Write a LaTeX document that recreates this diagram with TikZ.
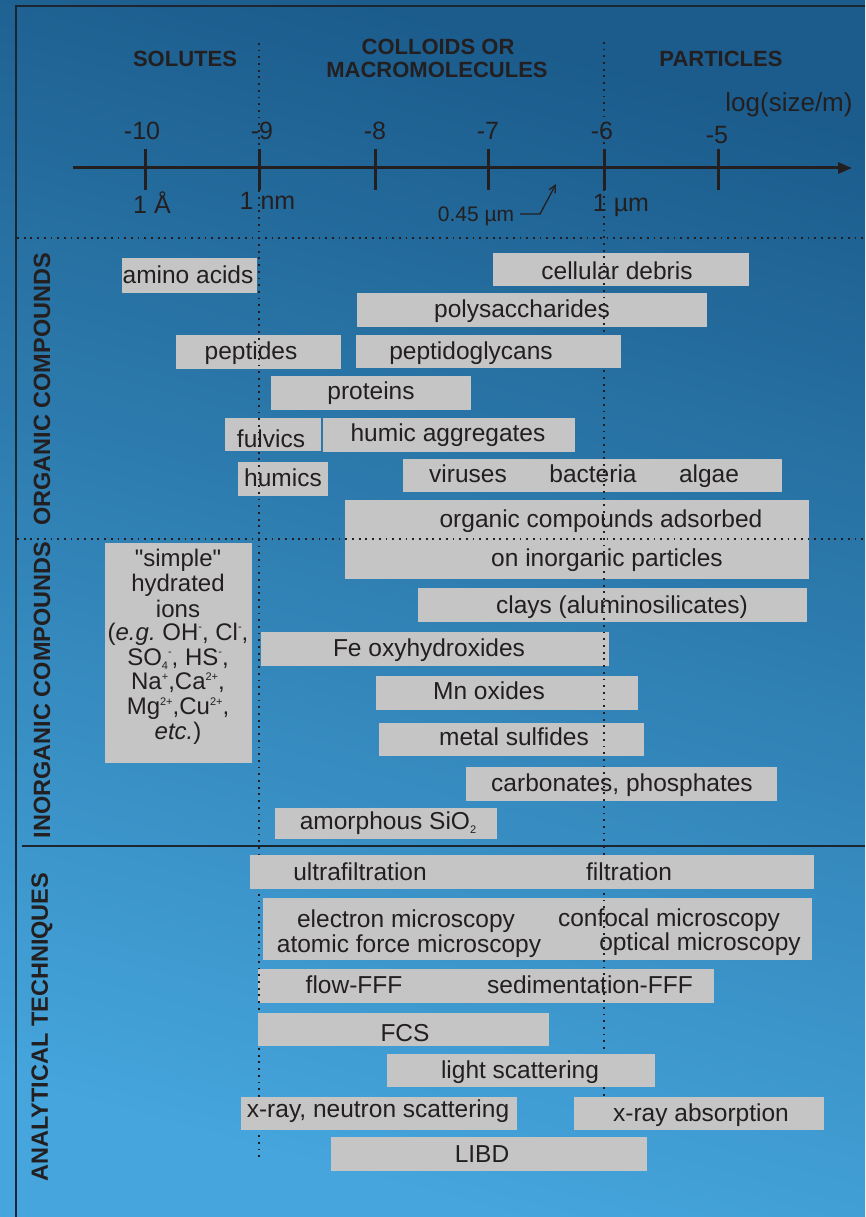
\documentclass[tikz,border=0pt]{standalone}
\usepackage{fontspec}
\setmainfont{Liberation Sans}
\newfontfamily\qfont{Liberation Sans}
\usetikzlibrary{arrows.meta}
\definecolor{bgtop}{HTML}{1B5C8C}
\definecolor{bgbot}{HTML}{45A5DC}
\definecolor{boxgray}{HTML}{C5C5C5}
\definecolor{ink}{HTML}{231F20}
\definecolor{rulec}{HTML}{1C2630}
\frenchspacing
\newcommand\ionsup[1]{\smash{\raisebox{0.38em}{\fontsize{11}{11}\selectfont #1}}}
\newcommand\ionsub[1]{\smash{\raisebox{-0.18em}{\fontsize{11}{11}\selectfont #1}}}
\newcommand\gb[5]{\node[gbox, minimum width={(#4-#2)*1pt}, minimum height={(#5-#3)*1pt}] (#1) at (#2,#3) {};}
\tikzset{
  gbox/.style={fill=boxgray, inner sep=0pt, outer sep=0pt, anchor=north west},
  lbl/.style={text=ink, inner sep=0pt, anchor=base, font=\fontsize{24.5}{29}\selectfont},
  ionl/.style={text=ink, inner sep=0pt, anchor=base, font=\fontsize{24}{28}\selectfont},
  small/.style={text=ink, inner sep=0pt, anchor=base, font=\fontsize{21}{25}\selectfont},
  axnum/.style={text=ink, inner sep=0pt, anchor=base, font=\fontsize{25}{30}\selectfont},
  hdr/.style={text=ink, inner sep=0pt, anchor=base, font=\bfseries\fontsize{22}{26}\selectfont},
  side/.style={text=ink, inner sep=0pt, rotate=90, font=\bfseries\fontsize{23.5}{28}\selectfont},
  frameline/.style={draw=rulec, line width=2.4pt},
  axisline/.style={draw=ink, line width=3pt},
  dotline/.style={draw=ink, line width=1.8pt, dash pattern=on 1.8pt off 4.9pt},
}
\begin{document}
\begin{tikzpicture}[x=1pt,y=-1pt]
\useasboundingbox (0,0) rectangle (865,1217);
\shade[top color=bgtop, bottom color=bgbot, shading angle=-15] (0,0) rectangle (865,1217);

% frame
\coordinate (fTL) at (15,6); \coordinate (fTR) at (865,6);
\coordinate (fLT) at (16,5); \coordinate (fLB) at (16,1217);
\draw[frameline] (fTL) -- (fTR);
\draw[frameline] (fLT) -- (fLB);
\coordinate (hsA) at (22,846); \coordinate (hsB) at (865,846);
\draw[frameline] (hsA) -- (hsB);
\coordinate (hd1A) at (17,238); \coordinate (hd1B) at (865,238);
\coordinate (hd2A) at (17,539); \coordinate (hd2B) at (865,539);

% headers
\node[hdr] (solutes) at (185,66.7) {SOLUTES};
\node[hdr] (colloids) at (438,54.3) {COLLOIDS OR};
\node[hdr] (macro) at (437,77.3) {MACROMOLECULES};
\node[hdr] (particles) at (721,66.7) {PARTICLES};
\node[axnum, font=\fontsize{26}{30}\selectfont] (logsize) at (789,111.7) {log(size/m)};

% axis
\coordinate (axL) at (73,168); \coordinate (axR) at (852,168);
\draw[axisline, -{Triangle[length=14pt,width=11pt]}] (axL) -- (axR);
\foreach \i/\x in {1/145,2/259,3/375,4/488,5/604,6/718}{
  \coordinate (tk\i a) at (\x,149); \coordinate (tk\i b) at (\x,190);
  \draw[axisline] (tk\i a) -- (tk\i b);
}
\node[axnum] (n10) at (142,140) {-10};
\node[axnum] (n9) at (262,140) {-9};
\node[axnum] (n8) at (375,140) {-8};
\node[axnum] (n7) at (488,140) {-7};
\node[axnum] (n6) at (602,140) {-6};
\node[axnum] (n5) at (717,144) {-5};
\node[axnum] (uA) at (152,213) {1 Å};
\node[axnum] (unm) at (267.5,209.3) {1 nm};
\node[axnum] (uum) at (621,211.7) {1 µm};
\node[small] (u045) at (476,221.7) {0.45 µm};
\coordinate (a0) at (520,214); \coordinate (a1) at (540,214); \coordinate (a2) at (556,184);
\draw[draw=ink, line width=1.3pt, -{Straight Barb[length=7pt,width=7pt]}] (a0) -- (a1) -- (a2);

% side labels
\node[side] (sOrg) at (42,389.5) {ORGANIC COMPOUNDS};
\node[side] (sInorg) at (42,690) {INORGANIC COMPOUNDS};
\node[side] (sAna) at (42,1027) {ANALYTICAL TECHNIQUES};

% boxes beneath the dotted lines
\gb{bAmino}{122}{258}{257}{293}
\gb{bCell}{493}{253}{749}{286}
\gb{bPoly}{357}{293}{707}{327}
\gb{bPept}{176}{335}{341}{369}
\gb{bProt}{271}{376}{471}{410}
\gb{bFulv}{225}{418}{321}{451}
\gb{bHagg}{323}{418}{575}{452}
\gb{bHum}{238}{462}{328}{496}
\gb{bVba}{403}{459}{782}{492}
\gb{bOcads}{345}{500}{809}{579}
\gb{bIons}{105}{543}{252}{763}
\gb{bClay}{418}{588}{807}{622}
\gb{bFe}{261}{632}{609}{666}
\gb{bMn}{376}{676}{638}{710}
\gb{bMs}{379}{723}{644}{756}
\gb{bCarb}{466}{767}{777}{801}
\gb{bSi}{275}{808}{497}{839}
\gb{bMicro}{263}{898}{812}{960}
\gb{bFff}{258}{969}{714}{1003}
\gb{bLibd}{331}{1137}{647}{1171}

\node[lbl] (tAmino) at (188,283) {amino acids};
\node[lbl] (tCell) at (617,279) {cellular debris};
\node[lbl] (tPoly) at (522,317) {polysaccharides};
\node[lbl] (tPept) at (251,359) {peptides};
\node[lbl] (tProt) at (371,399) {proteins};
\node[lbl] (tFulv) at (271,447) {fulvics};
\node[lbl] (tHagg) at (448,441) {humic aggregates};
\node[lbl] (tHum) at (283,486) {humics};
\node[lbl] (tVir) at (468,482) {viruses};
\node[lbl] (tBac) at (593,482) {bacteria};
\node[lbl] (tAlg) at (709,482) {algae};
\node[lbl] (tOc1) at (601,527) {organic compounds adsorbed};
\node[lbl] (tOc2) at (607,566.5) {on inorganic particles};
\node[lbl] (tClay) at (622,613) {clays (aluminosilicates)};
\node[lbl] (tFe) at (429,656.5) {Fe oxyhydroxides};
\node[lbl] (tMn) at (489,699) {Mn oxides};
\node[lbl] (tMs) at (514,745) {metal sulfides};
\node[lbl] (tCarb) at (622,791) {carbonates, phosphates};
\node[lbl] (tSi) at (388,829) {amorphous SiO\ionsub{2}};
\node[lbl] (tEm) at (406,927.5) {electron microscopy};
\node[lbl] (tAfm) at (409,952) {atomic force microscopy};
\node[lbl] (tCm) at (669,926) {confocal microscopy};
\node[lbl] (tOm) at (700,950) {optical microscopy};
\node[lbl] (tFlow) at (354,993) {flow-FFF};
\node[lbl] (tSed) at (590,993) {sedimentation-FFF};
\node[lbl] (tLibd) at (482,1162.5) {LIBD};

\node[ionl] (i1) at (178,566) {{\qfont"}simple{\qfont"}};
\node[ionl] (i2) at (178,591.7) {hydrated};
\node[ionl] (i3) at (178,617.3) {ions};
\node[ionl] (i4) at (178,640) {(\textit{e.g.} OH\ionsup{-}, Cl\ionsup{-},};
\node[ionl] (i5) at (178,665) {SO\ionsub{4}\ionsup{-}, HS\ionsup{-},};
\node[ionl] (i6) at (178,689.3) {Na\ionsup{+},Ca\ionsup{2+},};
\node[ionl] (i7) at (178,714.3) {Mg\ionsup{2+},Cu\ionsup{2+},};
\node[ionl] (i8) at (178,739.3) {\textit{etc.})};

% dotted lines
\coordinate (v1A) at (259,43); \coordinate (v1B) at (259,1160);
\coordinate (v2A) at (604,42); \coordinate (v2B) at (604,1134);
\draw[dotline] (v1A) -- (v1B);
\draw[dotline] (v2A) -- (v2B);
\draw[dotline] (hd1A) -- (hd1B);
\draw[dotline] (hd2A) -- (hd2B);

% boxes covering the dotted lines
\gb{bPgly}{356}{335}{621}{368}
\gb{bFilt}{250}{855}{814}{889}
\gb{bFcs}{258}{1013}{549}{1046}
\gb{bLight}{387}{1054}{655}{1087}
\gb{bXn}{241}{1097}{517}{1130}
\gb{bXa}{574}{1097}{824}{1130}
\node[lbl] (tPgly) at (471,359) {peptidoglycans};
\node[lbl] (tUf) at (360,880) {ultrafiltration};
\node[lbl] (tF) at (629,880) {filtration};
\node[lbl] (tFcs) at (405,1041) {FCS};
\node[lbl] (tLight) at (520,1078) {light scattering};
\node[lbl] (tXn) at (378,1117.5) {x-ray, neutron scattering};
\node[lbl] (tXa) at (701,1121) {x-ray absorption};
\end{tikzpicture}
\end{document}
